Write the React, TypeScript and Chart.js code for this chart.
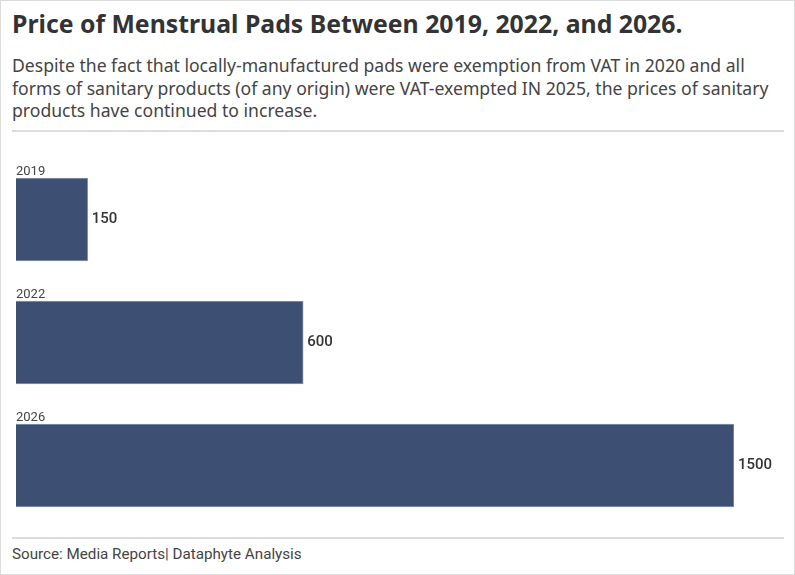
import React, { useEffect, useRef } from "react";
import { Chart, registerables, type Plugin } from "chart.js";

Chart.register(...registerables);

// Data
const years = ["2019", "2022", "2026"];
const prices = [150, 600, 1500];

const BAR_COLOR = "#3d4f73";
const BAR_EDGE = "#8d98b0";

// Year label above each bar, value label to the right of it
const barLabels: Plugin<"bar"> = {
  id: "barLabels",
  afterDatasetsDraw(chart) {
    const { ctx } = chart;
    const meta = chart.getDatasetMeta(0);
    ctx.save();
    meta.data.forEach((bar: any, i) => {
      const top = bar.y - bar.height / 2;
      ctx.fillStyle = "#444";
      ctx.font = "13px Roboto, sans-serif";
      ctx.textAlign = "left";
      ctx.textBaseline = "alphabetic";
      ctx.fillText(years[i], bar.base, top - 3);

      ctx.fillStyle = "#333";
      ctx.font = "500 15px Roboto, sans-serif";
      ctx.textBaseline = "middle";
      ctx.fillText(String(prices[i]), bar.x + 4, bar.y);
    });
    ctx.restore();
  },
};

function PriceChart() {
  const canvasRef = useRef<HTMLCanvasElement>(null);

  useEffect(() => {
    if (!canvasRef.current) return;
    const chart = new Chart(canvasRef.current, {
      type: "bar",
      data: {
        labels: years,
        datasets: [
          {
            data: prices,
            backgroundColor: BAR_COLOR,
            borderColor: BAR_EDGE,
            borderWidth: 1,
            barThickness: 83,
          },
        ],
      },
      options: {
        indexAxis: "y",
        responsive: false,
        animation: false,
        layout: { padding: { left: 0, right: 50, top: 0, bottom: 0 } },
        plugins: {
          legend: { display: false },
          tooltip: { enabled: false },
        },
        scales: {
          x: { display: false, min: 0, max: 1500 },
          y: { display: false },
        },
      },
      plugins: [barLabels],
    });
    return () => chart.destroy();
  }, []);

  return (
    <canvas
      ref={canvasRef}
      width={768}
      height={369}
      style={{ position: "absolute", left: 15, top: 157, width: 768, height: 369 }}
    />
  );
}

export default function App() {
  useEffect(() => {
    document.body.style.margin = "0";
  }, []);

  return (
    <div
      style={{
        position: "relative",
        width: 795,
        height: 575,
        boxSizing: "border-box",
        border: "1px solid #dcdcdc",
        background: "#fff",
        fontFamily: "'Noto Sans', sans-serif",
        color: "#333",
        overflow: "hidden",
      }}
    >
      <div
        style={{
          position: "absolute",
          left: 11,
          top: 5,
          fontSize: 24.8,
          fontWeight: 700,
          color: "#333",
          whiteSpace: "nowrap",
        }}
      >
        Price of Menstrual Pads Between 2019, 2022, and 2026.
      </div>
      <div
        style={{
          position: "absolute",
          left: 11,
          top: 53,
          fontSize: 17.6,
          lineHeight: "22.5px",
          color: "#444",
          whiteSpace: "nowrap",
        }}
      >
        Despite the fact that locally-manufactured pads were exemption from VAT in 2020 and all
        <br />
        forms of sanitary products (of any origin) were VAT-exempted IN 2025, the prices of sanitary
        <br />
        products have continued to increase.
      </div>
      <div
        style={{
          position: "absolute",
          left: 11,
          top: 129,
          width: 772,
          height: 2,
          background: "#dcdcdc",
        }}
      />
      <PriceChart />
      <div
        style={{
          position: "absolute",
          left: 11,
          top: 536,
          width: 772,
          height: 2,
          background: "#dcdcdc",
        }}
      />
      <div
        style={{
          position: "absolute",
          left: 11,
          top: 544,
          fontSize: 15.2,
          fontFamily: "Roboto, sans-serif",
          color: "#444",
          whiteSpace: "nowrap",
        }}
      >
        Source: Media Reports| Dataphyte Analysis
      </div>
    </div>
  );
}
